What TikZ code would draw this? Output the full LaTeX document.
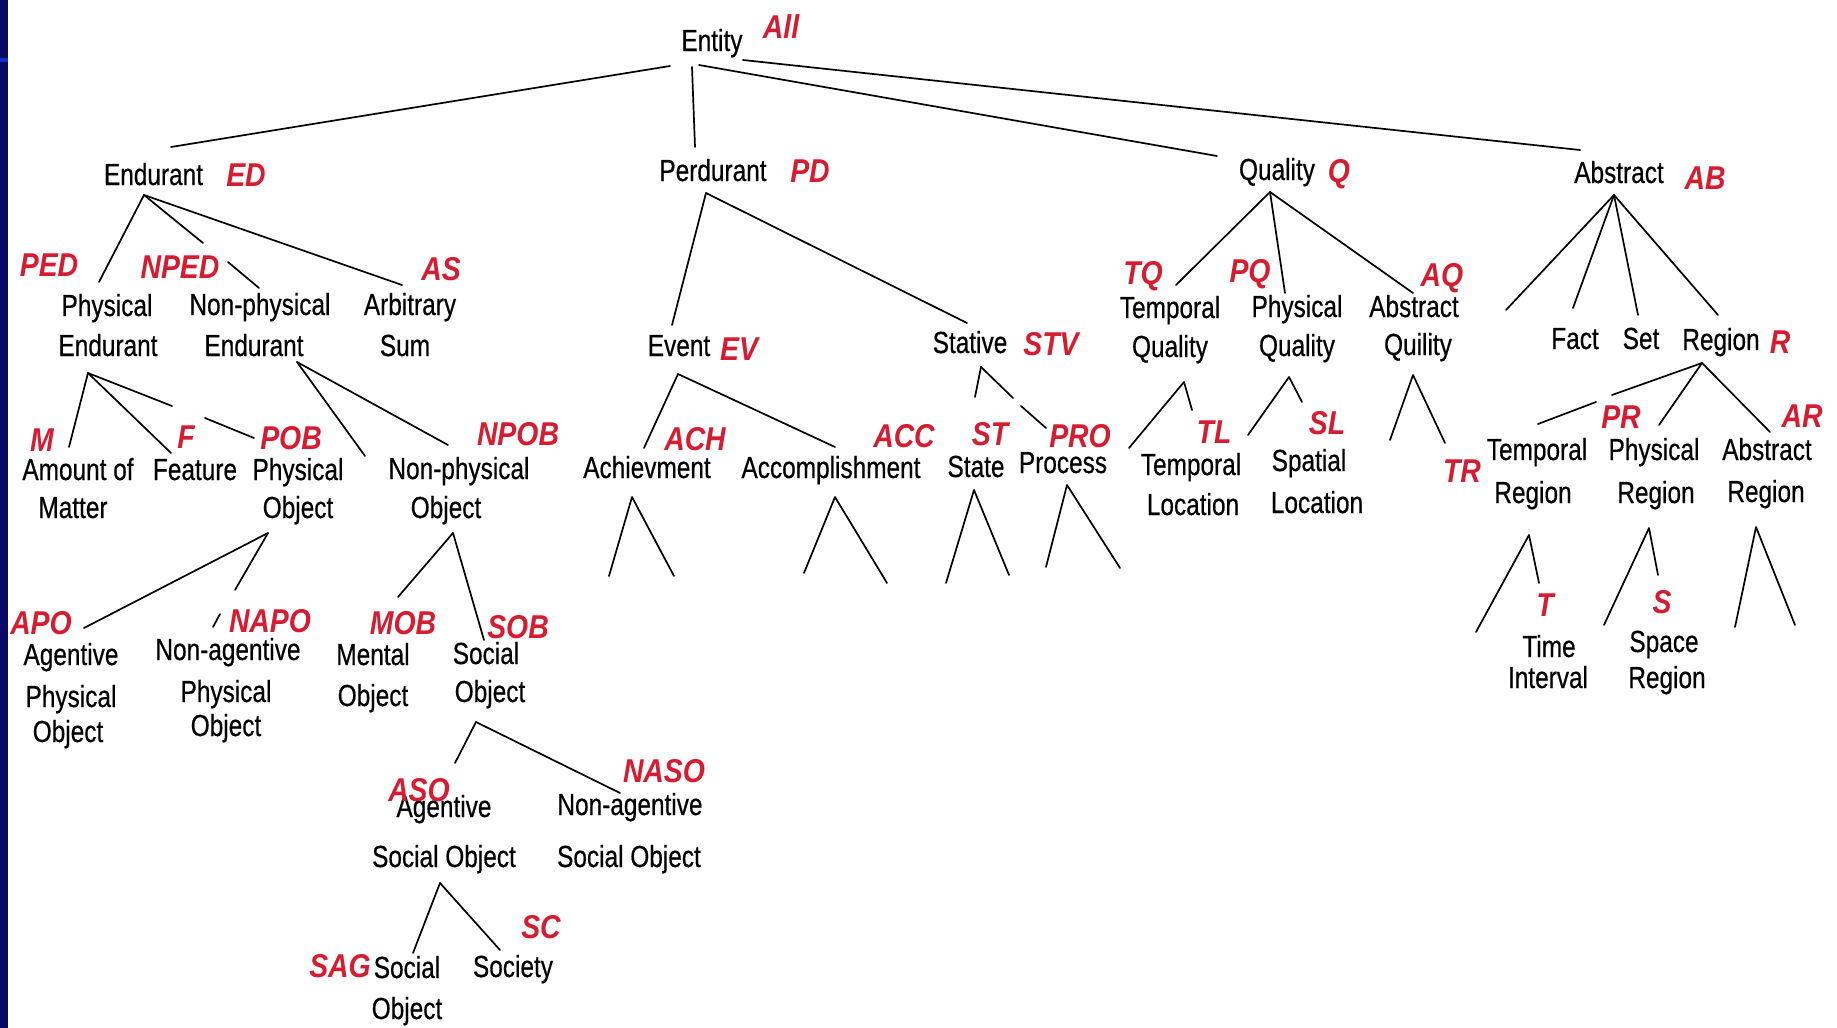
\documentclass[tikz,border=0pt]{standalone}
\usepackage{fontspec}
\setmainfont{Liberation Sans}[FakeStretch=0.8, FakeBold=0.5]
\newfontfamily\tagfont{Liberation Sans}[FakeStretch=0.86]
\definecolor{tagred}{RGB}{214,28,48}
\definecolor{navy}{RGB}{8,8,104}
\definecolor{bandblue}{RGB}{10,48,200}
\tikzset{
  txt/.style={anchor=base, inner sep=0pt, text=black, font={\fontsize{30.5}{36}\selectfont}},
  tag/.style={anchor=base, inner sep=0pt, text=tagred, font={\tagfont\bfseries\itshape\fontsize{33}{38}\selectfont}},
  edge/.style={line width=1.7pt, black, line cap=round, line join=round}
}
\begin{document}
\begin{tikzpicture}[x=1pt,y=-1pt]
\useasboundingbox (0,0) rectangle (1837,1028);
\fill[white] (0,0) rectangle (1837,1028);
\fill[navy] (0,0) rectangle (7.5,1028);
\fill[bandblue] (0,58) rectangle (7.5,62);

% ---------- black texts ----------
\node[txt] (ent) at (712,51) {Entity};
\node[txt] (end) at (153.5,185) {Endurant};
\node[txt] (per) at (713,181) {Perdurant};
\node[txt] (qua) at (1277,180) {Quality};
\node[txt] (abs) at (1619,183) {Abstract};
\node[txt] (pe1) at (107,316) {Physical};
\node[txt] (pe2) at (108,356) {Endurant};
\node[txt] (npe1) at (260,315) {Non-physical};
\node[txt] (npe2) at (254,356) {Endurant};
\node[txt] (as1) at (410,315) {Arbitrary};
\node[txt] (as2) at (405,356) {Sum};
\node[txt] (am1) at (78,480) {Amount of};
\node[txt] (am2) at (73,518) {Matter};
\node[txt] (fea) at (195,480) {Feature};
\node[txt] (po1) at (298,480) {Physical};
\node[txt] (po2) at (298,518) {Object};
\node[txt] (npo1) at (459,479) {Non-physical};
\node[txt] (npo2) at (446,518) {Object};
\node[txt] (apo1) at (71,665) {Agentive};
\node[txt] (apo2) at (71,707) {Physical};
\node[txt] (apo3) at (68,742) {Object};
\node[txt] (napo1) at (228,660) {Non-agentive};
\node[txt] (napo2) at (226,702) {Physical};
\node[txt] (napo3) at (226,736) {Object};
\node[txt] (mob1) at (373,665) {Mental};
\node[txt] (mob2) at (373,706) {Object};
\node[txt] (sob1) at (486,664) {Social};
\node[txt] (sob2) at (490,702) {Object};
\node[txt] (aso1) at (444,817) {Agentive};
\node[txt] (aso2) at (444,867) {Social Object};
\node[txt] (naso1) at (630,815) {Non-agentive};
\node[txt] (naso2) at (629,867) {Social Object};
\node[txt] (sag1) at (407,978) {Social};
\node[txt] (sag2) at (407,1019) {Object};
\node[txt] (soc) at (513,977) {Society};
\node[txt] (evt) at (679,356) {Event};
\node[txt] (stv) at (970,353) {Stative};
\node[txt] (ach) at (647,478) {Achievment};
\node[txt] (acc) at (831,478) {Accomplishment};
\node[txt] (sta) at (976,477) {State};
\node[txt] (pro) at (1063,473) {Process};
\node[txt] (tq1) at (1170,318) {Temporal};
\node[txt] (tq2) at (1170,357) {Quality};
\node[txt] (pq1) at (1297,317) {Physical};
\node[txt] (pq2) at (1297,356) {Quality};
\node[txt] (aq1) at (1414,317) {Abstract};
\node[txt] (aq2) at (1418,355) {Quility};
\node[txt] (tl1) at (1191,475) {Temporal};
\node[txt] (tl2) at (1193,515) {Location};
\node[txt] (sl1) at (1309,471) {Spatial};
\node[txt] (sl2) at (1317,513) {Location};
\node[txt] (fact) at (1575,349) {Fact};
\node[txt] (set) at (1641,349) {Set};
\node[txt] (reg) at (1721,350) {Region};
\node[txt] (tr1) at (1537,460) {Temporal};
\node[txt] (tr2) at (1533,503) {Region};
\node[txt] (pr1) at (1654,460) {Physical};
\node[txt] (pr2) at (1656,503) {Region};
\node[txt] (ar1) at (1767,460) {Abstract};
\node[txt] (ar2) at (1766,502) {Region};
\node[txt] (ti1) at (1549,657) {Time};
\node[txt] (ti2) at (1548,688) {Interval};
\node[txt] (sp1) at (1664,652) {Space};
\node[txt] (sp2) at (1667,688) {Region};

% ---------- red tags ----------
\node[tag, font={\tagfont\bfseries\itshape\fontsize{33}{38}\selectfont}] (tAll) at (781,38) {All};
\node[tag] (tED) at (246,186) {ED};
\node[tag] (tPD) at (810,182) {PD};
\node[tag] (tQ) at (1339,182) {Q};
\node[tag] (tAB) at (1705,189) {AB};
\node[tag] (tPED) at (49,276) {PED};
\node[tag] (tNPED) at (180,278) {NPED};
\node[tag] (tAS) at (441,280) {AS};
\node[tag] (tM) at (42,451) {M};
\node[tag] (tF) at (186,448) {F};
\node[tag] (tPOB) at (291,449) {POB};
\node[tag] (tNPOB) at (518,445) {NPOB};
\node[tag] (tAPO) at (41,634) {APO};
\node[tag] (tNAPO) at (270,632) {NAPO};
\node[tag] (tMOB) at (403,634) {MOB};
\node[tag] (tSOB) at (518,638) {SOB};
\node[tag] (tASO) at (419,801) {ASO};
\node[tag] (tNASO) at (664,782) {NASO};
\node[tag] (tSC) at (541,938) {SC};
\node[tag] (tSAG) at (340,977) {SAG};
\node[tag] (tEV) at (739,360) {EV};
\node[tag] (tSTV) at (1051,355) {STV};
\node[tag] (tACH) at (695,450) {ACH};
\node[tag] (tACC) at (904,447) {ACC};
\node[tag] (tST) at (990,445) {ST};
\node[tag] (tPRO) at (1080,447) {PRO};
\node[tag] (tTQ) at (1143,284) {TQ};
\node[tag] (tPQ) at (1250,282) {PQ};
\node[tag] (tAQ) at (1442,286) {AQ};
\node[tag] (tTL) at (1214,443) {TL};
\node[tag] (tSL) at (1327,434) {SL};
\node[tag] (tTR) at (1462,482) {TR};
\node[tag] (tR) at (1780,353) {R};
\node[tag] (tPR) at (1621,428) {PR};
\node[tag] (tAR) at (1802,427) {AR};
\node[tag] (tT) at (1545,616) {T};
\node[tag] (tS) at (1662,613) {S};

% ---------- connector end points ----------
\foreach \n/\x/\y in {
  eL/670/66, eD/171/147, eP1/692/67, eP2/695/147, eQ1/699/65, eQ2/1217/156, eA1/743/60, eA2/1580/150,
  dA/144/195, dPE/99/282, dNP/203/243, dAS/402/285, npT1/228/262, npT2/259/288,
  peA/88/373, peM/69/447, peF/171/453, peP1/172/406, peP2/205/418, peP3/254/438,
  npA/297/362, npPO/365/456, npNPO/448/445,
  poA/268/533, poAPO/84/628, poNAPO/235/590, naT1/213/627, naT2/220/614,
  noA/453/533, noMOB/398/597, noSOB/484/640,
  soA/476/722, soASO/455/763, soNASO/620/793,
  asA/440/883, asSAG/413/953, asSC/500/950,
  pdA/706/193, pdEV/672/325, pdSTV/967/323,
  evA/678/374, evACH/644/448, evACC/835/447,
  stA/981/367, stST/975/397, stPR1/1013/398, stPR2/1021/406, stPR3/1046/428,
  achA/632/497, achL/609/576, achR/674/576,
  accA/835/497, accL/804/573, accR/887/583,
  staA/974/490, staL/946/583, staR/1009/575,
  proA/1067/485, proL/1046/567, proR/1120/568,
  qA/1270/192, qTQ/1176/285, qPQ/1285/293, qAQ/1413/293,
  tqA/1184/382, tqL/1129/448, tqR/1192/410,
  pqA/1289/377, pqL/1248/435, pqR/1302/402,
  aqA/1413/375, aqL/1390/440, aqR/1445/443,
  abA/1614/195, abF/1506/310, abS/1573/308, abR1/1638/315, abR2/1718/315,
  rA/1702/363, rT1/1612/395, rT2/1596/402, rT3/1538/424, rP/1659/425, rAR/1770/432,
  trA/1529/535, trL/1476/632, trR/1539/583,
  prA/1649/528, prL/1604/625, prR/1658/575,
  arA/1756/527, arL/1735/627, arR/1795/625}
  \coordinate (\n) at (\x,\y);

% ---------- connectors ----------
\draw[edge] (eL) -- (eD);
\draw[edge] (eP1) -- (eP2);
\draw[edge] (eQ1) -- (eQ2);
\draw[edge] (eA1) -- (eA2);
\draw[edge] (dA) -- (dPE);
\draw[edge] (dA) -- (dNP);
\draw[edge] (dA) -- (dAS);
\draw[edge] (npT1) -- (npT2);
\draw[edge] (peA) -- (peM);
\draw[edge] (peA) -- (peF);
\draw[edge] (peA) -- (peP1);
\draw[edge] (peP2) -- (peP3);
\draw[edge] (npA) -- (npPO);
\draw[edge] (npA) -- (npNPO);
\draw[edge] (poA) -- (poAPO);
\draw[edge] (poA) -- (poNAPO);
\draw[edge] (naT1) -- (naT2);
\draw[edge] (noA) -- (noMOB);
\draw[edge] (noA) -- (noSOB);
\draw[edge] (soA) -- (soASO);
\draw[edge] (soA) -- (soNASO);
\draw[edge] (asA) -- (asSAG);
\draw[edge] (asA) -- (asSC);
\draw[edge] (pdA) -- (pdEV);
\draw[edge] (pdA) -- (pdSTV);
\draw[edge] (evA) -- (evACH);
\draw[edge] (evA) -- (evACC);
\draw[edge] (stA) -- (stST);
\draw[edge] (stA) -- (stPR1);
\draw[edge] (stPR2) -- (stPR3);
\draw[edge] (achL) -- (achA) -- (achR);
\draw[edge] (accL) -- (accA) -- (accR);
\draw[edge] (staL) -- (staA) -- (staR);
\draw[edge] (proL) -- (proA) -- (proR);
\draw[edge] (qA) -- (qTQ);
\draw[edge] (qA) -- (qPQ);
\draw[edge] (qA) -- (qAQ);
\draw[edge] (tqL) -- (tqA) -- (tqR);
\draw[edge] (pqL) -- (pqA) -- (pqR);
\draw[edge] (aqL) -- (aqA) -- (aqR);
\draw[edge] (abA) -- (abF);
\draw[edge] (abA) -- (abS);
\draw[edge] (abA) -- (abR1);
\draw[edge] (abA) -- (abR2);
\draw[edge] (rA) -- (rT1);
\draw[edge] (rT2) -- (rT3);
\draw[edge] (rA) -- (rP);
\draw[edge] (rA) -- (rAR);
\draw[edge] (trL) -- (trA) -- (trR);
\draw[edge] (prL) -- (prA) -- (prR);
\draw[edge] (arL) -- (arA) -- (arR);
\end{tikzpicture}
\end{document}
